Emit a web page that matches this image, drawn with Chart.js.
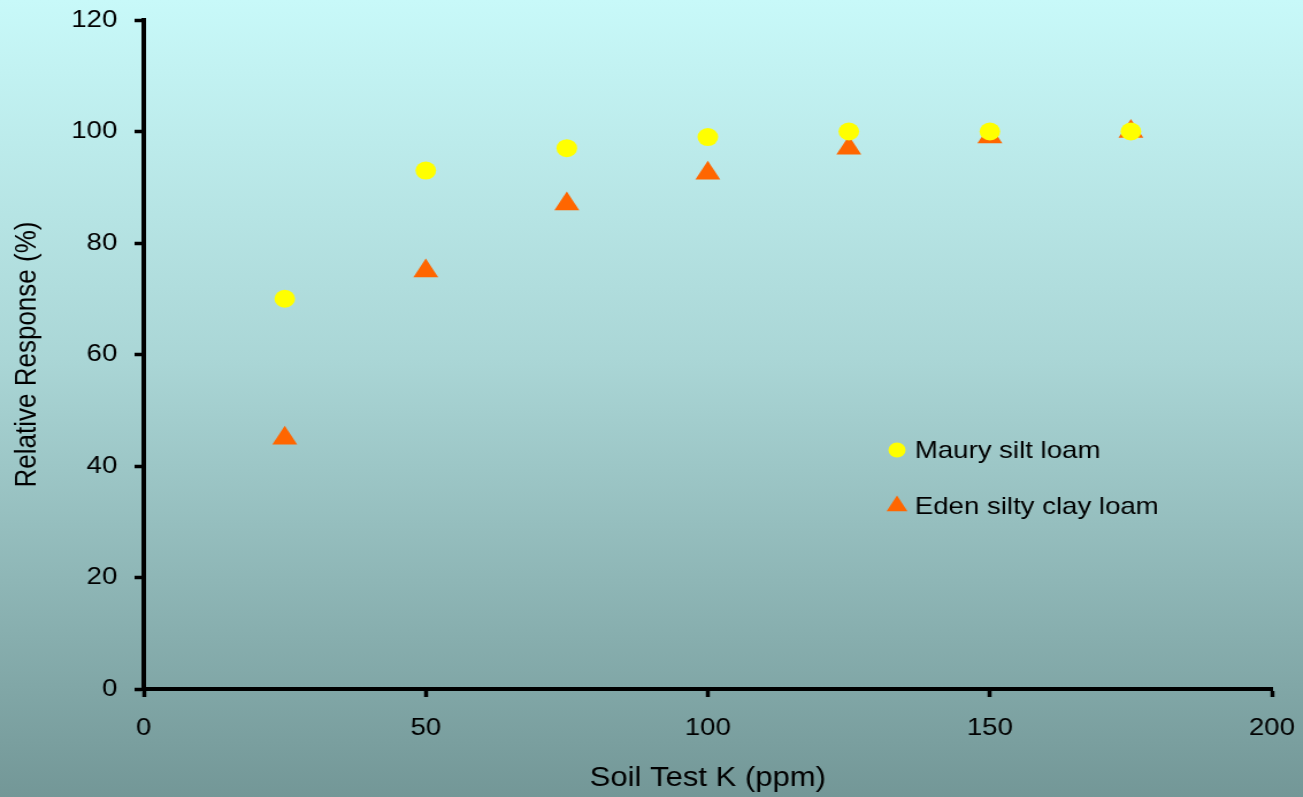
<!DOCTYPE html>
<html lang="en">
<head>
  <meta charset="UTF-8">
  <title>Relative Response vs Soil Test K</title>
  <script src="https://cdn.jsdelivr.net/npm/chart.js"></script>
  <style>
    html, body {
      margin: 0;
      padding: 0;
      overflow: hidden;
    }
    body {
      width: 1303px;
      height: 797px;
      background: linear-gradient(to bottom, #c8f9f9 0%, #aad6d6 45%, #739797 100%);
      font-family: "Liberation Sans", Arial, sans-serif;
    }
    /* the original picture is slightly stretched sideways */
    #wrap {
      width: 1133px;
      height: 797px;
      transform: scaleX(1.15);
      transform-origin: 0 0;
    }
  </style>
</head>
<body>
  <div id="wrap">
    <canvas id="soilChart" width="1133" height="797"></canvas>
  </div>

  <script>
    const soilK = [25, 50, 75, 100, 125, 150, 175];
    const maury = [70, 93, 97, 99, 100, 100, 100];
    const eden = [45, 75, 87, 92.5, 97, 99, 100];
    const seriesNames = ['Maury silt loam', 'Eden silty clay loam'];

    const FAMILY = '"Liberation Sans", Arial, sans-serif';
    const tickFont = { family: FAMILY, size: 24 };

    // legend drawn inside the plot, like the original
    const insideLegend = {
      id: 'insideLegend',
      afterDraw(chart) {
        const ctx = chart.ctx;
        const area = chart.chartArea;
        const x0 = area.left + (area.right - area.left) * 0.6677;
        const rows = [area.top + 430, area.top + 486];
        ctx.save();
        ctx.font = '24px ' + FAMILY;
        ctx.textBaseline = 'middle';
        chart.data.datasets.forEach((ds, i) => {
          const y = rows[i];
          ctx.fillStyle = ds.backgroundColor;
          ctx.strokeStyle = ds.backgroundColor;
          Chart.helpers.drawPoint(ctx, {
            pointStyle: ds.pointStyle,
            radius: ds.pointStyle === 'triangle' ? 10.5 : 7.5,
            rotation: 0,
            borderWidth: 0
          }, x0, y);
          ctx.fillStyle = '#000';
          ctx.fillText(ds.label, x0 + 15.5, y + 1);
        });
        ctx.restore();
      }
    };

    new Chart(document.getElementById('soilChart'), {
      type: 'scatter',
      data: {
        datasets: [
          {
            label: seriesNames[0],
            data: soilK.map((k, i) => ({ x: k, y: maury[i] })),
            pointStyle: 'circle',
            pointRadius: 9,
            pointHoverRadius: 9,
            backgroundColor: '#ffff00',
            borderColor: '#ffff00',
            borderWidth: 0
          },
          {
            label: seriesNames[1],
            data: soilK.map((k, i) => ({ x: k, y: eden[i] })),
            pointStyle: 'triangle',
            pointRadius: 12.5,
            pointHoverRadius: 12.5,
            backgroundColor: '#ff6600',
            borderColor: '#ff6600',
            borderWidth: 0
          }
        ]
      },
      options: {
        responsive: false,
        animation: false,
        layout: { padding: { top: 20, right: 27, left: 0, bottom: 0 } },
        plugins: {
          legend: { display: false },
          tooltip: { enabled: false }
        },
        scales: {
          x: {
            type: 'linear',
            min: 0,
            max: 200,
            afterFit(scale) {
              scale.height = 108;
              scale.paddingLeft = 0;
              scale.paddingRight = 0;
            },
            ticks: { stepSize: 50, color: '#000', font: tickFont, padding: 17 },
            grid: { drawOnChartArea: false, drawTicks: true, tickLength: 8, tickColor: '#000', tickWidth: 3.5 },
            border: { color: '#000', width: 4 },
            title: {
              display: true,
              text: 'Soil Test K (ppm)',
              color: '#000',
              font: { family: FAMILY, size: 27 },
              padding: { top: 0, bottom: 2 }
            }
          },
          y: {
            min: 0,
            max: 120,
            afterFit(scale) {
              scale.width = 125;
              scale.paddingTop = 0;
              scale.paddingBottom = 0;
            },
            ticks: { stepSize: 20, color: '#000', font: tickFont, padding: 15 },
            grid: { drawOnChartArea: false, drawTicks: true, tickLength: 8, tickColor: '#000', tickWidth: 3.5 },
            border: { color: '#000', width: 4 },
            title: {
              display: true,
              text: 'Relative Response (%)',
              color: '#000',
              font: { family: FAMILY, size: 26 },
              padding: { top: 8, bottom: 0 }
            }
          }
        }
      },
      plugins: [insideLegend]
    });
  </script>
</body>
</html>
